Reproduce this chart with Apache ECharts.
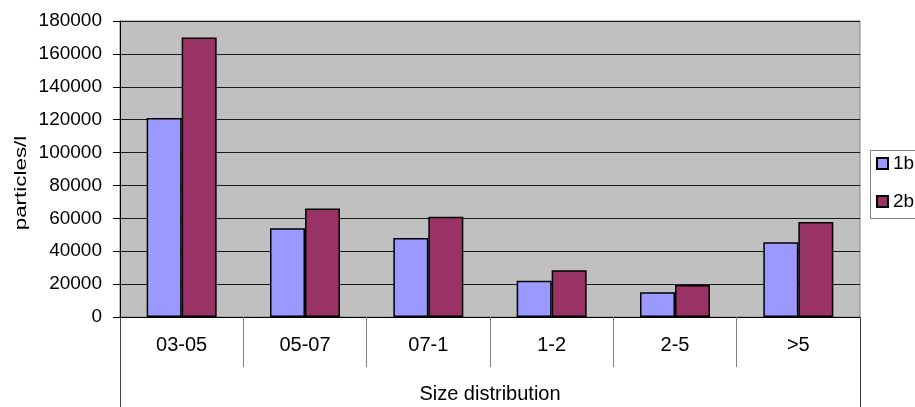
<!DOCTYPE html>
<html>
<head>
<meta charset="utf-8">
<script src="https://cdn.jsdelivr.net/npm/echarts@6/dist/echarts.min.js"></script>
<style>
  html, body { margin: 0; padding: 0; background: #fff; }
  #chart { width: 915px; height: 407px; }
</style>
</head>
<body>
<div id="chart"></div>
<script>
// Particle counts per size class
const categories = ['03-05', '05-07', '07-1', '1-2', '2-5', '>5'];
const seriesNames = ['1b', '2b'];
const values1b = [121000, 54000, 48000, 22000, 15000, 45500];
const values2b = [170000, 66000, 61000, 28500, 19500, 57800];
const axisTitle = 'Size distribution';
const yTitle = 'particles/l';

const FONT = '"Liberation Sans", Arial, sans-serif';

const chart = echarts.init(document.getElementById('chart'));
chart.setOption({
  animation: false,
  backgroundColor: '#ffffff',
  textStyle: { fontFamily: FONT, color: '#000' },
  grid: {
    left: 120, right: 55, top: 21, bottom: 90,
    show: true,
    backgroundColor: '#C0C0C0',
    borderColor: '#808080',
    borderWidth: 1
  },
  legend: {
    orient: 'vertical',
    left: 870, top: 150,
    padding: [4, 10, 8, 6],
    itemGap: 19,
    itemWidth: 11, itemHeight: 11,
    borderWidth: 0,
    icon: 'rect',
    textStyle: { fontFamily: FONT, fontSize: 19, color: '#000' },
    data: seriesNames
  },
  xAxis: [
    {
      type: 'category',
      data: categories,
      position: 'bottom',
      axisLine: { show: true, lineStyle: { color: '#000', width: 1 } },
      axisTick: { show: true, length: 50, lineStyle: { color: '#808080' } },
      axisLabel: { fontFamily: FONT, fontSize: 20, color: '#000', margin: 18 },
      splitLine: { show: false }
    },
    {
      type: 'category',
      data: [axisTitle],
      position: 'bottom',
      axisLine: { show: false },
      axisTick: { show: true, length: 90, lineStyle: { color: '#404040' } },
      axisLabel: { fontFamily: FONT, fontSize: 20, color: '#000', margin: 67 },
      splitLine: { show: false }
    }
  ],
  yAxis: {
    type: 'value',
    min: 0, max: 180000, interval: 20000,
    axisLine: { show: true, lineStyle: { color: '#000', width: 1 } },
    axisTick: { show: true, length: 7, lineStyle: { color: '#000' } },
    axisLabel: {
      fontFamily: FONT, fontSize: 19, color: '#000', margin: 18,
      formatter: (v) => String(v)
    },
    splitLine: { show: true, lineStyle: { color: '#1a1a1a', width: 1 } }
  },
  graphic: [
    {
      // legend frame, running past the right edge of the canvas
      type: 'rect',
      z: 0,
      shape: { x: 870.5, y: 150.5, width: 80, height: 68 },
      style: { fill: '#fff', stroke: '#808080', lineWidth: 1 }
    },
    {
      type: 'text',
      x: 14, y: 183,
      rotation: Math.PI / 2,
      scaleX: 1.4,
      style: {
        text: yTitle,
        font: '16px ' + FONT,
        fill: '#000',
        align: 'center',
        verticalAlign: 'top'
      }
    }
  ],
  series: [
    {
      name: seriesNames[0],
      type: 'bar',
      data: values1b,
      barWidth: 35,
      barGap: '0%',
      itemStyle: { color: '#9999FF', borderColor: '#000', borderWidth: 1.5 }
    },
    {
      name: seriesNames[1],
      type: 'bar',
      data: values2b,
      barWidth: 35,
      barGap: '0%',
      itemStyle: { color: '#993366', borderColor: '#000', borderWidth: 1.5 }
    }
  ]
});
</script>
</body>
</html>
